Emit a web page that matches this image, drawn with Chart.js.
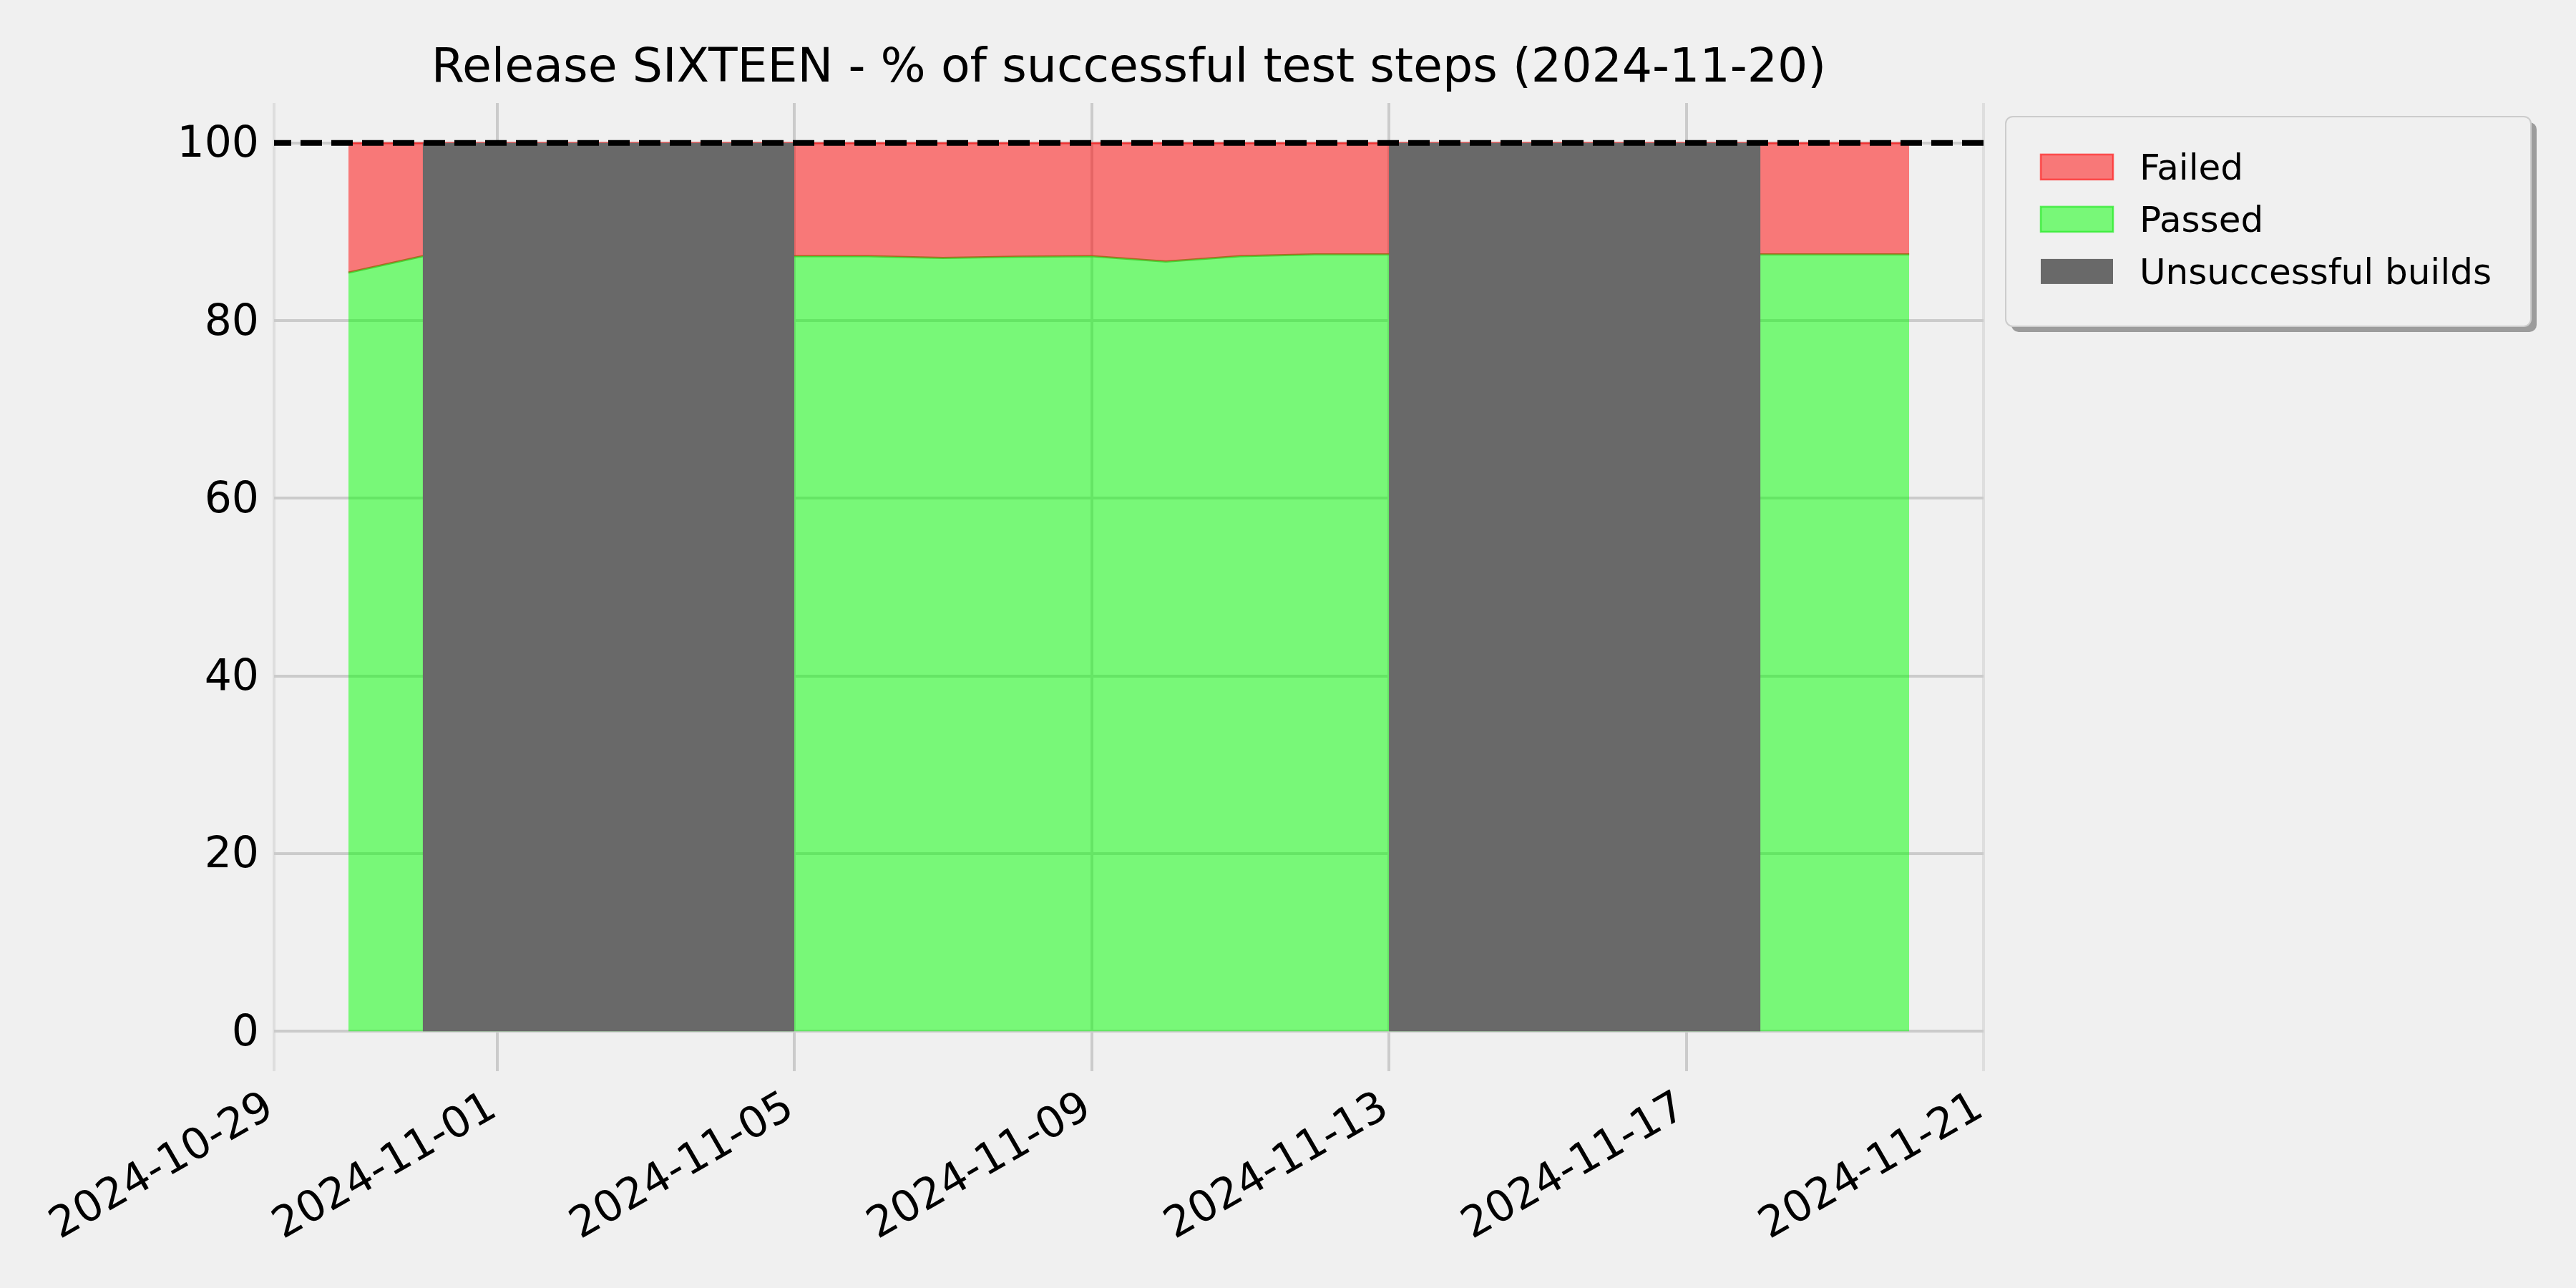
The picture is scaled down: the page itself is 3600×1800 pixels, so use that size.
<!DOCTYPE html>
<html>
<head>
<meta charset="utf-8">
<script src="https://cdn.jsdelivr.net/npm/chart.js@4.4.1/dist/chart.umd.min.js"></script>
<style>
  html, body { margin: 0; padding: 0; background: #f0f0f0; }
  #wrap { width: 3600px; height: 1800px; }
</style>
</head>
<body>
<div id="wrap"><canvas id="chart"></canvas></div>
<script>
// dias com build OK (os outros ficaram sem resultado de teste)
const dates = ['2024-10-30', '2024-10-31', '2024-11-05', '2024-11-06', '2024-11-07', '2024-11-08', '2024-11-09',
               '2024-11-10', '2024-11-11', '2024-11-12', '2024-11-13', '2024-11-18', '2024-11-19', '2024-11-20'];
const passedPct = [85.4, 87.25, 87.25, 87.25, 87.05, 87.2, 87.25, 86.65, 87.25, 87.45, 87.45, 87.45, 87.45, 87.45];
const failedPct = [14.6, 12.75, 12.75, 12.75, 12.95, 12.8, 12.75, 13.35, 12.75, 12.55, 12.55, 12.55, 12.55, 12.55];

// periodos com builds quebrados
const brokenStart = ['2024-10-31', '2024-11-13'];
const brokenEnd = ['2024-11-05', '2024-11-18'];

const xTicks = ['2024-10-29', '2024-11-01', '2024-11-05', '2024-11-09', '2024-11-13', '2024-11-17', '2024-11-21'];
const yTicks = [0, 20, 40, 60, 80, 100];
const target = 100;

const DAY = 86400000;
const t0 = Date.parse(xTicks[0]);
const toDay = s => (Date.parse(s) - t0) / DAY;
const fmtDay = v => new Date(t0 + v * DAY).toISOString().slice(0, 10);

const passedData = dates.map((d, i) => ({ x: toDay(d), y: passedPct[i] }));
const failedTop = dates.map((d, i) => ({ x: toDay(d), y: passedPct[i] + failedPct[i] }));

const brokenData = [];
brokenStart.forEach((s, i) => {
    brokenData.push({ x: toDay(s), y: target });
    brokenData.push({ x: toDay(brokenEnd[i]), y: target });
    brokenData.push({ x: toDay(brokenEnd[i]), y: null });
});

const xMin = toDay(xTicks[0]);
const xMax = toDay(xTicks[xTicks.length - 1]);

const legendOrder = [2, 3, 1];

function boxPath(ctx, x, y, w, h, r) {
    ctx.beginPath();
    ctx.moveTo(x + r, y);
    ctx.arcTo(x + w, y, x + w, y + h, r);
    ctx.arcTo(x + w, y + h, x, y + h, r);
    ctx.arcTo(x, y + h, x, y, r);
    ctx.arcTo(x, y, x + w, y, r);
    ctx.closePath();
}

// legenda no estilo do matplotlib (caixa com sombra)
const legendBox = {
    id: 'legendBox',
    afterDraw(chart) {
        const ctx = chart.ctx;
        const area = chart.chartArea;
        const x = area.right + 31, y = area.top + 19, w = 734, h = 293;
        ctx.save();
        ctx.fillStyle = '#9c9c9c';
        boxPath(ctx, x + 8, y + 8, w, h, 10);
        ctx.fill();
        ctx.fillStyle = '#f0f0f0';
        boxPath(ctx, x, y, w, h, 10);
        ctx.fill();
        ctx.strokeStyle = '#cccccc';
        ctx.lineWidth = 2;
        ctx.stroke();
        legendOrder.forEach(function (idx, k) {
            const ds = chart.data.datasets[idx];
            const cy = y + 70.5 + k * 73;
            ctx.fillStyle = ds.backgroundColor;
            ctx.fillRect(x + 49, cy - 17.5, 101, 35);
            if (ds.legendEdge) {
                ctx.strokeStyle = ds.legendEdge;
                ctx.lineWidth = 2.5;
                ctx.strokeRect(x + 49, cy - 17.5, 101, 35);
            }
            ctx.fillStyle = '#000';
            ctx.font = '50px "DejaVu Sans"';
            ctx.textAlign = 'left';
            ctx.textBaseline = 'alphabetic';
            ctx.fillText(ds.label, x + 187, cy + 18);
        });
        ctx.restore();
    }
};

Chart.defaults.font.family = '"DejaVu Sans", sans-serif';
Chart.defaults.color = '#000';

const ctx = document.getElementById('chart').getContext('2d');
const chart = new Chart(ctx, {
    type: 'line',
    data: {
        datasets: [
            {
                label: 'target',
                data: [{ x: xMin, y: target }, { x: xMax, y: target }],
                borderColor: '#000',
                borderWidth: 8,
                borderDash: [30, 13],
                borderDashOffset: 6,
                borderCapStyle: 'butt',
                fill: false,
                clip: 0
            },
            {
                label: 'Unsuccessful builds',
                data: brokenData,
                backgroundColor: '#696969',
                borderColor: '#696969',
                borderWidth: 0,
                spanGaps: false,
                fill: 'origin'
            },
            {
                label: 'Failed',
                data: failedTop,
                backgroundColor: 'rgba(255, 0, 0, 0.5)',
                borderColor: 'rgba(255, 0, 0, 0.5)',
                legendEdge: 'rgba(255, 40, 40, 0.75)',
                borderWidth: 3,
                fill: '+1'
            },
            {
                label: 'Passed',
                data: passedData,
                backgroundColor: 'rgba(0, 255, 0, 0.5)',
                borderColor: 'rgba(60, 205, 40, 0.85)',
                legendEdge: 'rgba(40, 235, 40, 0.75)',
                borderWidth: 3,
                fill: 'origin'
            }
        ]
    },
    options: {
        responsive: true,
        maintainAspectRatio: false,
        animation: false,
        devicePixelRatio: 1,
        elements: {
            point: { radius: 0, hoverRadius: 0 },
            line: { tension: 0 }
        },
        layout: {
            padding: { left: 0, right: 828, top: 0, bottom: 0 }
        },
        scales: {
            x: {
                type: 'linear',
                min: xMin,
                max: xMax,
                afterBuildTicks: function (scale) {
                    scale.ticks = xTicks.map(s => ({ value: toDay(s) }));
                },
                afterFit: function (scale) {
                    scale.height = 303;
                },
                border: { display: false },
                grid: {
                    color: function (c) {
                        return (c.index === 0 || c.index === xTicks.length - 1) ? '#dedede' : '#cbcbcb';
                    },
                    lineWidth: 4,
                    drawTicks: false
                },
                ticks: {
                    autoSkip: false,
                    maxRotation: 30,
                    minRotation: 30,
                    padding: 16,
                    labelOffset: -5,
                    font: { size: 60 },
                    callback: function (v) { return fmtDay(v); }
                }
            },
            y: {
                min: -4.5,
                max: 104.5,
                afterBuildTicks: function (scale) {
                    scale.ticks = yTicks.map(v => ({ value: v }));
                },
                afterFit: function (scale) {
                    scale.width = 383;
                },
                border: { display: false },
                grid: {
                    color: '#cbcbcb',
                    lineWidth: 4,
                    drawTicks: false
                },
                ticks: {
                    padding: 21,
                    labelOffset: 4,
                    font: { size: 60 }
                }
            }
        },
        plugins: {
            legend: { display: false },
            tooltip: { enabled: false },
            title: {
                display: true,
                fullSize: false,
                text: 'Release SIXTEEN - % of successful test steps (2024-11-20)',
                font: { size: 66.5, weight: 'normal' },
                color: '#000',
                padding: { top: 56.6, bottom: 7.5 }
            }
        }
    },
    plugins: [legendBox]
});
</script>
</body>
</html>
